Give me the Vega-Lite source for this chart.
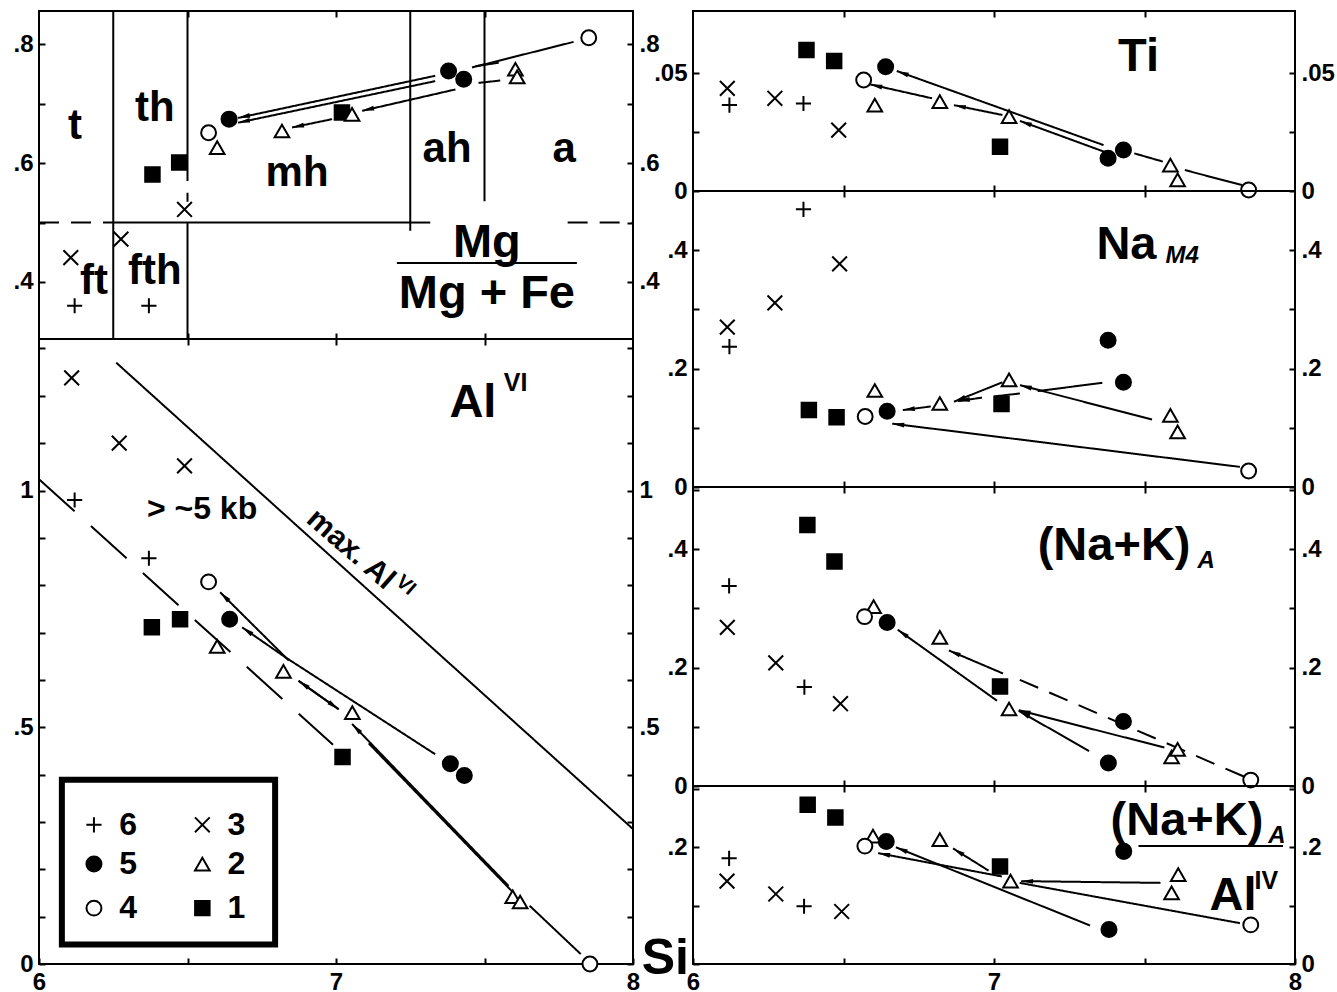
{
"$schema": "https://vega.github.io/schema/vega-lite/v6.json",
"padding": {"left": 11, "top": 9, "right": 0, "bottom": 0},
"background": "white",
"config": {
  "view": {"stroke": "black", "strokeWidth": 2},
  "axis": {"domain": false, "grid": false, "ticks": true, "tickSize": -6, "tickWidth": 2, "tickColor": "black", "labelPadding": 12, "labelFont": "Liberation Sans", "labelFontSize": 24, "labelFontWeight": "bold", "labelColor": "black", "labelFlush": false, "labelOverlap": false, "labelBound": false},
  "text": {"font": "Liberation Sans", "fontWeight": "bold", "color": "black"}
},
"datasets": {
  "pts": [
    {"p":"mg","s":"4","x":7.851,"y":0.811},{"p":"mg","s":"4","x":6.571,"y":0.651},
    {"p":"mg","s":"5","x":7.379,"y":0.755},{"p":"mg","s":"5","x":7.43,"y":0.741},{"p":"mg","s":"5","x":6.64,"y":0.674},
    {"p":"mg","s":"1","x":7.02,"y":0.685},{"p":"mg","s":"1","x":6.382,"y":0.581},{"p":"mg","s":"1","x":6.472,"y":0.601},
    {"p":"mg","s":"2","x":7.604,"y":0.758},{"p":"mg","s":"2","x":7.61,"y":0.745},{"p":"mg","s":"2","x":7.054,"y":0.682},{"p":"mg","s":"2","x":6.818,"y":0.654},{"p":"mg","s":"2","x":6.6,"y":0.626},
    {"p":"mg","s":"3","x":6.49,"y":0.522},{"p":"mg","s":"3","x":6.276,"y":0.472},{"p":"mg","s":"3","x":6.107,"y":0.441},
    {"p":"mg","s":"6","x":6.12,"y":0.36},{"p":"mg","s":"6","x":6.37,"y":0.36},

    {"p":"al","s":"3","x":6.11,"y":1.238},{"p":"al","s":"3","x":6.27,"y":1.1},{"p":"al","s":"3","x":6.49,"y":1.052},
    {"p":"al","s":"6","x":6.12,"y":0.98},{"p":"al","s":"6","x":6.37,"y":0.857},
    {"p":"al","s":"4","x":6.571,"y":0.807},{"p":"al","s":"4","x":7.855,"y":0.0},
    {"p":"al","s":"1","x":6.38,"y":0.711},{"p":"al","s":"1","x":6.475,"y":0.728},{"p":"al","s":"1","x":7.022,"y":0.437},
    {"p":"al","s":"5","x":6.642,"y":0.728},{"p":"al","s":"5","x":7.385,"y":0.423},{"p":"al","s":"5","x":7.432,"y":0.398},
    {"p":"al","s":"2","x":6.6,"y":0.671},{"p":"al","s":"2","x":6.823,"y":0.618},{"p":"al","s":"2","x":7.055,"y":0.531},{"p":"al","s":"2","x":7.595,"y":0.142},{"p":"al","s":"2","x":7.62,"y":0.131},

    {"p":"ti","s":"1","x":6.377,"y":0.0599},{"p":"ti","s":"1","x":6.469,"y":0.0552},{"p":"ti","s":"1","x":7.02,"y":0.0188},
    {"p":"ti","s":"5","x":6.64,"y":0.0528},{"p":"ti","s":"5","x":7.379,"y":0.0139},{"p":"ti","s":"5","x":7.43,"y":0.0174},
    {"p":"ti","s":"4","x":6.567,"y":0.0472},{"p":"ti","s":"4","x":7.846,"y":0.0004},
    {"p":"ti","s":"3","x":6.114,"y":0.0436},{"p":"ti","s":"3","x":6.272,"y":0.0394},{"p":"ti","s":"3","x":6.484,"y":0.0259},
    {"p":"ti","s":"6","x":6.121,"y":0.0365},{"p":"ti","s":"6","x":6.367,"y":0.0372},
    {"p":"ti","s":"2","x":6.604,"y":0.0365},{"p":"ti","s":"2","x":6.82,"y":0.038},{"p":"ti","s":"2","x":7.05,"y":0.0316},{"p":"ti","s":"2","x":7.586,"y":0.011},{"p":"ti","s":"2","x":7.61,"y":0.0047},

    {"p":"na","s":"6","x":6.367,"y":0.469},{"p":"na","s":"6","x":6.121,"y":0.237},
    {"p":"na","s":"3","x":6.487,"y":0.377},{"p":"na","s":"3","x":6.272,"y":0.311},{"p":"na","s":"3","x":6.114,"y":0.27},
    {"p":"na","s":"5","x":7.379,"y":0.248},{"p":"na","s":"5","x":7.43,"y":0.177},{"p":"na","s":"5","x":6.645,"y":0.128},
    {"p":"na","s":"2","x":7.05,"y":0.181},{"p":"na","s":"2","x":6.604,"y":0.163},{"p":"na","s":"2","x":6.82,"y":0.141},{"p":"na","s":"2","x":7.586,"y":0.121},{"p":"na","s":"2","x":7.61,"y":0.093},
    {"p":"na","s":"1","x":6.385,"y":0.13},{"p":"na","s":"1","x":6.477,"y":0.118},{"p":"na","s":"1","x":7.025,"y":0.14},
    {"p":"na","s":"4","x":6.572,"y":0.119},{"p":"na","s":"4","x":7.846,"y":0.027},

    {"p":"nk","s":"1","x":6.38,"y":0.441},{"p":"nk","s":"1","x":6.47,"y":0.379},{"p":"nk","s":"1","x":7.02,"y":0.168},
    {"p":"nk","s":"6","x":6.12,"y":0.338},{"p":"nk","s":"6","x":6.37,"y":0.167},
    {"p":"nk","s":"3","x":6.114,"y":0.268},{"p":"nk","s":"3","x":6.275,"y":0.208},{"p":"nk","s":"3","x":6.49,"y":0.139},
    {"p":"nk","s":"2","x":6.6,"y":0.303},{"p":"nk","s":"2","x":6.82,"y":0.251},{"p":"nk","s":"2","x":7.05,"y":0.13},{"p":"nk","s":"2","x":7.59,"y":0.049},{"p":"nk","s":"2","x":7.61,"y":0.062},
    {"p":"nk","s":"4","x":6.57,"y":0.286},{"p":"nk","s":"4","x":7.853,"y":0.01},
    {"p":"nk","s":"5","x":6.645,"y":0.276},{"p":"nk","s":"5","x":7.43,"y":0.109},{"p":"nk","s":"5","x":7.38,"y":0.039},

    {"p":"ra","s":"1","x":6.381,"y":0.273},{"p":"ra","s":"1","x":6.473,"y":0.251},{"p":"ra","s":"1","x":7.02,"y":0.167},
    {"p":"ra","s":"2","x":6.598,"y":0.219},{"p":"ra","s":"2","x":6.82,"y":0.213},{"p":"ra","s":"2","x":7.055,"y":0.142},{"p":"ra","s":"2","x":7.612,"y":0.153},{"p":"ra","s":"2","x":7.59,"y":0.122},
    {"p":"ra","s":"4","x":6.571,"y":0.202},{"p":"ra","s":"4","x":7.853,"y":0.067},
    {"p":"ra","s":"5","x":6.642,"y":0.21},{"p":"ra","s":"5","x":7.431,"y":0.193},{"p":"ra","s":"5","x":7.382,"y":0.059},
    {"p":"ra","s":"6","x":6.12,"y":0.181},{"p":"ra","s":"6","x":6.369,"y":0.099},
    {"p":"ra","s":"3","x":6.113,"y":0.142},{"p":"ra","s":"3","x":6.275,"y":0.12},{"p":"ra","s":"3","x":6.494,"y":0.09}
  ],
  "leg": [
    {"s":"6","x":6.185,"y":0.294},{"s":"5","x":6.185,"y":0.211},{"s":"4","x":6.185,"y":0.118},
    {"s":"3","x":6.55,"y":0.294},{"s":"2","x":6.55,"y":0.211},{"s":"1","x":6.55,"y":0.118}
  ],
  "segs": [
    {"p":"mg","x":6.25,"y":0.304,"x2":6.25,"y2":0.856,"k":"solid","h":0},
    {"p":"mg","x":6.5,"y":0.856,"x2":6.5,"y2":0.57,"k":"solid","h":0},
    {"p":"mg","x":6.5,"y":0.55,"x2":6.5,"y2":0.535,"k":"solid","h":0},
    {"p":"mg","x":6.5,"y":0.5,"x2":6.5,"y2":0.304,"k":"solid","h":0},
    {"p":"mg","x":7.25,"y":0.856,"x2":7.25,"y2":0.486,"k":"solid","h":0},
    {"p":"mg","x":7.5,"y":0.856,"x2":7.5,"y2":0.536,"k":"solid","h":0},
    {"p":"mg","x":6.25,"y":0.5,"x2":7.25,"y2":0.5,"k":"solid","h":0},
    {"p":"mg","x":6.0,"y":0.5,"x2":6.25,"y2":0.5,"k":"dash","h":0},
    {"p":"mg","x":7.25,"y":0.5,"x2":7.33,"y2":0.5,"k":"dash","h":0},
    {"p":"mg","x":7.78,"y":0.5,"x2":8.0,"y2":0.5,"k":"dash","h":0},
    {"p":"mg","x":7.205,"y":0.432,"x2":7.811,"y2":0.432,"k":"solid","h":0},
    {"p":"mg","x":7.8,"y":0.804,"x2":7.458,"y2":0.761,"k":"solid","h":0},
    {"p":"mg","x":7.334,"y":0.747,"x2":6.67,"y2":0.676,"k":"solid","h":1},
    {"p":"mg","x":7.334,"y":0.738,"x2":6.67,"y2":0.668,"k":"solid","h":1},
    {"p":"mg","x":7.402,"y":0.724,"x2":7.088,"y2":0.688,"k":"solid","h":1},
    {"p":"mg","x":6.987,"y":0.674,"x2":6.852,"y2":0.66,"k":"solid","h":1},
    {"p":"mg","x":7.47,"y":0.763,"x2":7.548,"y2":0.769,"k":"solid","h":0},
    {"p":"mg","x":7.48,"y":0.735,"x2":7.553,"y2":0.739,"k":"solid","h":0},

    {"p":"al","x":6.26,"y":1.27,"x2":8.0,"y2":0.285,"k":"solid","h":0},
    {"p":"al","x":6.0,"y":1.024,"x2":6.99,"y2":0.463,"k":"long","h":0},
    {"p":"al","x":7.824,"y":0.021,"x2":7.652,"y2":0.123,"k":"solid","h":0},
    {"p":"al","x":7.581,"y":0.165,"x2":7.054,"y2":0.507,"k":"solid","h":1},
    {"p":"al","x":7.595,"y":0.152,"x2":7.11,"y2":0.466,"k":"solid","h":0},
    {"p":"al","x":7.009,"y":0.538,"x2":6.874,"y2":0.598,"k":"solid","h":1},
    {"p":"al","x":6.874,"y":0.598,"x2":7.009,"y2":0.538,"k":"solid","h":1},
    {"p":"al","x":6.841,"y":0.641,"x2":6.61,"y2":0.785,"k":"solid","h":1},
    {"p":"al","x":6.829,"y":0.648,"x2":6.684,"y2":0.711,"k":"solid","h":1},
    {"p":"al","x":7.334,"y":0.443,"x2":6.829,"y2":0.648,"k":"solid","h":0},

    {"p":"ti","x":7.364,"y":0.0195,"x2":6.677,"y2":0.051,"k":"solid","h":1},
    {"p":"ti","x":7.37,"y":0.0165,"x2":7.086,"y2":0.0298,"k":"solid","h":1},
    {"p":"ti","x":7.028,"y":0.0323,"x2":6.867,"y2":0.0365,"k":"solid","h":1},
    {"p":"ti","x":6.794,"y":0.0394,"x2":6.589,"y2":0.0453,"k":"solid","h":1},
    {"p":"ti","x":7.466,"y":0.016,"x2":7.561,"y2":0.0125,"k":"solid","h":0},
    {"p":"ti","x":7.634,"y":0.0089,"x2":7.824,"y2":0.0025,"k":"solid","h":0},

    {"p":"na","x":7.817,"y":0.034,"x2":6.662,"y2":0.107,"k":"solid","h":1},
    {"p":"na","x":7.525,"y":0.114,"x2":7.086,"y2":0.172,"k":"solid","h":1},
    {"p":"na","x":7.36,"y":0.176,"x2":7.145,"y2":0.162,"k":"solid","h":0},
    {"p":"na","x":7.086,"y":0.158,"x2":7.0,"y2":0.153,"k":"solid","h":0},
    {"p":"na","x":6.96,"y":0.151,"x2":6.88,"y2":0.145,"k":"solid","h":1},
    {"p":"na","x":7.028,"y":0.177,"x2":6.867,"y2":0.144,"k":"solid","h":1},
    {"p":"na","x":6.79,"y":0.136,"x2":6.697,"y2":0.13,"k":"solid","h":1},

    {"p":"nk","x":7.316,"y":0.059,"x2":7.082,"y2":0.127,"k":"solid","h":1},
    {"p":"nk","x":7.566,"y":0.065,"x2":7.082,"y2":0.128,"k":"solid","h":1},
    {"p":"nk","x":7.83,"y":0.016,"x2":7.06,"y2":0.185,"k":"dash","h":0},
    {"p":"nk","x":7.03,"y":0.19,"x2":6.85,"y2":0.229,"k":"solid","h":1},
    {"p":"nk","x":7.01,"y":0.144,"x2":6.68,"y2":0.264,"k":"solid","h":1},

    {"p":"ra","x":7.817,"y":0.07,"x2":7.085,"y2":0.139,"k":"solid","h":0},
    {"p":"ra","x":7.553,"y":0.139,"x2":7.09,"y2":0.142,"k":"solid","h":1},
    {"p":"ra","x":7.319,"y":0.066,"x2":6.674,"y2":0.2,"k":"solid","h":1},
    {"p":"ra","x":7.026,"y":0.15,"x2":6.615,"y2":0.19,"k":"solid","h":1},
    {"p":"ra","x":6.982,"y":0.16,"x2":6.864,"y2":0.198,"k":"solid","h":1},
    {"p":"ra","x":7.48,"y":0.202,"x2":7.96,"y2":0.202,"k":"solid","h":0}
  ],
  "txt": [
    {"p":"mg","r":"zone","t":"t","x":6.121,"y":0.662},
    {"p":"mg","r":"zone","t":"th","x":6.39,"y":0.693},
    {"p":"mg","r":"zone","t":"mh","x":6.869,"y":0.583},
    {"p":"mg","r":"zone","t":"ah","x":7.374,"y":0.624},
    {"p":"mg","r":"zone","t":"a","x":7.768,"y":0.624},
    {"p":"mg","r":"zone","t":"ft","x":6.185,"y":0.401},
    {"p":"mg","r":"zone","t":"fth","x":6.39,"y":0.418},
    {"p":"mg","r":"big","t":"Mg","x":7.508,"y":0.466},
    {"p":"mg","r":"big","t":"Mg + Fe","x":7.508,"y":0.38},
    {"p":"al","r":"big","t":"Al","x":7.461,"y":1.184},
    {"p":"al","r":"sup","t":"VI","x":7.605,"y":1.228},
    {"p":"al","r":"mid","t":"> ~5 kb","x":6.549,"y":0.96},
    {"p":"al","r":"rot","t":"max. Al","x":7.05,"y":0.876},
    {"p":"al","r":"rotsup","t":"VI","x":7.235,"y":0.8},
    {"p":"al","r":"leg","t":"6","x":6.3,"y":0.294},
    {"p":"al","r":"leg","t":"5","x":6.3,"y":0.211},
    {"p":"al","r":"leg","t":"4","x":6.3,"y":0.118},
    {"p":"al","r":"leg","t":"3","x":6.665,"y":0.294},
    {"p":"al","r":"leg","t":"2","x":6.665,"y":0.211},
    {"p":"al","r":"leg","t":"1","x":6.665,"y":0.118},
    {"p":"ti","r":"big","t":"Ti","x":7.48,"y":0.057},
    {"p":"na","r":"big","t":"Na","x":7.44,"y":0.408},
    {"p":"na","r":"sub","t":"M4","x":7.625,"y":0.378},
    {"p":"nk","r":"big","t":"(Na+K)","x":7.399,"y":0.406},
    {"p":"nk","r":"sub","t":"A","x":7.705,"y":0.368},
    {"p":"ra","r":"big","t":"(Na+K)","x":7.641,"y":0.245},
    {"p":"ra","r":"sub","t":"A","x":7.94,"y":0.207},
    {"p":"ra","r":"big","t":"Al","x":7.794,"y":0.117},
    {"p":"ra","r":"sup","t":"IV","x":7.905,"y":0.143},
    {"p":"ra","r":"si","t":"Si","x":5.908,"y":0.008}
  ]
},
"spacing": -21,
"hconcat": [
 {"spacing": 0, "bounds": "flush", "vconcat": [
  {"width": 594, "height": 328,
   "resolve": {"axis": {"x": "independent", "y": "independent"}},
   "layer": [
    {"data": {"name": "segs"}, "transform": [{"filter": "datum.p=='mg'"}],
     "mark": {"type": "rule", "color": "black", "strokeWidth": 2},
     "encoding": {
      "x": {"field": "x", "type": "quantitative", "scale": {"domain": [6, 8], "nice": false, "zero": false}, "axis": {"orient": "bottom", "values": [6.5, 7, 7.5], "labels": false, "title": null}},
      "y": {"field": "y", "type": "quantitative", "scale": {"domain": [0.304, 0.856], "nice": false, "zero": false}, "axis": {"orient": "left", "values": [0.4, 0.5, 0.6, 0.7, 0.8], "labelExpr": "datum.value==0.4?'.4':datum.value==0.6?'.6':datum.value==0.8?'.8':''", "title": null}},
      "x2": {"field": "x2"}, "y2": {"field": "y2"},
      "strokeDash": {"field": "k", "type": "nominal", "scale": {"domain": ["solid", "dash", "long"], "range": [[1, 0], [20, 12], [48, 22]]}, "legend": null}}},
    {"data": {"name": "pts"}, "transform": [{"filter": "datum.p=='mg'"}],
     "mark": {"type": "point", "filled": true, "stroke": "black", "strokeWidth": 2, "opacity": 1},
     "encoding": {
      "x": {"field": "x", "type": "quantitative", "scale": {"domain": [6, 8], "nice": false, "zero": false}, "axis": {"orient": "top", "values": [6.5, 7, 7.5], "labels": false, "title": null}},
      "y": {"field": "y", "type": "quantitative", "scale": {"domain": [0.304, 0.856], "nice": false, "zero": false}, "axis": {"orient": "right", "values": [0.4, 0.5, 0.6, 0.7, 0.8], "labelExpr": "datum.value==0.4?'.4':datum.value==0.6?'.6':datum.value==0.8?'.8':''", "title": null}},
      "shape": {"field": "s", "type": "nominal", "scale": {"domain": ["1","2","3","4","5","6"], "range": ["square", "triangle-up", "M-1,-1L1,1M-1,1L1,-1", "circle", "circle", "M-1,0L1,0M0,-1L0,1"]}, "legend": null},
      "fill": {"field": "s", "type": "nominal", "scale": {"domain": ["1","2","3","4","5","6"], "range": ["black", "white", "transparent", "white", "black", "transparent"]}, "legend": null},
      "size": {"field": "s", "type": "ordinal", "scale": {"domain": ["1","2","3","4","5","6"], "range": [210, 230, 110, 200, 250, 180]}, "legend": null}}},
    {"data": {"name": "segs"}, "transform": [{"filter": "datum.p=='mg' && datum.h==1"}, {"calculate": "atan2((datum.x2-datum.x)*297,(datum.y2-datum.y)*594.2)*180/PI", "as": "ang"}],
     "mark": {"type": "point", "filled": true, "color": "black", "shape": "M0,0L0.4,2L-0.4,2Z", "size": 144, "opacity": 1},
     "encoding": {
      "x": {"field": "x2", "type": "quantitative", "scale": {"domain": [6, 8], "nice": false, "zero": false}, "axis": null},
      "y": {"field": "y2", "type": "quantitative", "scale": {"domain": [0.304, 0.856], "nice": false, "zero": false}, "axis": null},
      "angle": {"field": "ang", "type": "quantitative", "scale": null}}},
    {"data": {"name": "txt"}, "transform": [{"filter": "datum.p=='mg' && datum.r=='zone'"}],
     "mark": {"type": "text", "fontSize": 42, "align": "center", "baseline": "middle"},
     "encoding": {
      "x": {"field": "x", "type": "quantitative", "scale": {"domain": [6, 8], "nice": false, "zero": false}, "axis": null},
      "y": {"field": "y", "type": "quantitative", "scale": {"domain": [0.304, 0.856], "nice": false, "zero": false}, "axis": null},
      "text": {"field": "t"}}},
    {"data": {"name": "txt"}, "transform": [{"filter": "datum.p=='mg' && datum.r=='big'"}],
     "mark": {"type": "text", "fontSize": 47, "align": "center", "baseline": "middle"},
     "encoding": {
      "x": {"field": "x", "type": "quantitative", "scale": {"domain": [6, 8], "nice": false, "zero": false}, "axis": null},
      "y": {"field": "y", "type": "quantitative", "scale": {"domain": [0.304, 0.856], "nice": false, "zero": false}, "axis": null},
      "text": {"field": "t"}}}
   ]},
  {"width": 594, "height": 625,
   "resolve": {"axis": {"x": "independent", "y": "independent"}},
   "layer": [
    {"data": {"name": "segs"}, "transform": [{"filter": "datum.p=='al'"}],
     "mark": {"type": "rule", "color": "black", "strokeWidth": 2},
     "encoding": {
      "x": {"field": "x", "type": "quantitative", "scale": {"domain": [6, 8], "nice": false, "zero": false}, "axis": {"orient": "bottom", "values": [6, 6.5, 7, 7.5, 8], "labelExpr": "datum.value==6?'6':datum.value==7?'7':datum.value==8?'8':''", "title": null}},
      "y": {"field": "y", "type": "quantitative", "scale": {"domain": [0, 1.32], "nice": false, "zero": false}, "axis": {"orient": "left", "values": [0, 0.1, 0.2, 0.3, 0.4, 0.5, 0.6, 0.7, 0.8, 0.9, 1, 1.1, 1.2, 1.3], "labelExpr": "datum.value==0?'0':datum.value==0.5?'.5':datum.value==1?'1':''", "title": null}},
      "x2": {"field": "x2"}, "y2": {"field": "y2"},
      "strokeDash": {"field": "k", "type": "nominal", "scale": {"domain": ["solid", "dash", "long"], "range": [[1, 0], [20, 12], [48, 22]]}, "legend": null}}},
    {"data": {"values": [{}]},
     "mark": {"type": "rect", "fill": "white", "stroke": "black", "strokeWidth": 6},
     "encoding": {
      "x": {"datum": 6.077, "type": "quantitative", "scale": {"domain": [6, 8], "nice": false, "zero": false}, "axis": null},
      "x2": {"datum": 6.795},
      "y": {"datum": 0.389, "type": "quantitative", "scale": {"domain": [0, 1.32], "nice": false, "zero": false}, "axis": null},
      "y2": {"datum": 0.041}}},
    {"data": {"name": "pts"}, "transform": [{"filter": "datum.p=='al'"}],
     "mark": {"type": "point", "filled": true, "stroke": "black", "strokeWidth": 2, "opacity": 1},
     "encoding": {
      "x": {"field": "x", "type": "quantitative", "scale": {"domain": [6, 8], "nice": false, "zero": false}, "axis": {"orient": "top", "values": [6.5, 7, 7.5], "labels": false, "title": null}},
      "y": {"field": "y", "type": "quantitative", "scale": {"domain": [0, 1.32], "nice": false, "zero": false}, "axis": {"orient": "right", "values": [0, 0.1, 0.2, 0.3, 0.4, 0.5, 0.6, 0.7, 0.8, 0.9, 1, 1.1, 1.2, 1.3], "labelExpr": "datum.value==0.5?'.5':datum.value==1?'1':''", "title": null}},
      "shape": {"field": "s", "type": "nominal", "scale": {"domain": ["1","2","3","4","5","6"], "range": ["square", "triangle-up", "M-1,-1L1,1M-1,1L1,-1", "circle", "circle", "M-1,0L1,0M0,-1L0,1"]}, "legend": null},
      "fill": {"field": "s", "type": "nominal", "scale": {"domain": ["1","2","3","4","5","6"], "range": ["black", "white", "transparent", "white", "black", "transparent"]}, "legend": null},
      "size": {"field": "s", "type": "ordinal", "scale": {"domain": ["1","2","3","4","5","6"], "range": [210, 230, 110, 200, 250, 180]}, "legend": null}}},
    {"data": {"name": "leg"},
     "mark": {"type": "point", "filled": true, "stroke": "black", "strokeWidth": 2, "opacity": 1},
     "encoding": {
      "x": {"field": "x", "type": "quantitative", "scale": {"domain": [6, 8], "nice": false, "zero": false}, "axis": null},
      "y": {"field": "y", "type": "quantitative", "scale": {"domain": [0, 1.32], "nice": false, "zero": false}, "axis": null},
      "shape": {"field": "s", "type": "nominal", "scale": {"domain": ["1","2","3","4","5","6"], "range": ["square", "triangle-up", "M-1,-1L1,1M-1,1L1,-1", "circle", "circle", "M-1,0L1,0M0,-1L0,1"]}, "legend": null},
      "fill": {"field": "s", "type": "nominal", "scale": {"domain": ["1","2","3","4","5","6"], "range": ["black", "white", "transparent", "white", "black", "transparent"]}, "legend": null},
      "size": {"field": "s", "type": "ordinal", "scale": {"domain": ["1","2","3","4","5","6"], "range": [210, 230, 110, 200, 250, 180]}, "legend": null}}},
    {"data": {"name": "segs"}, "transform": [{"filter": "datum.p=='al' && datum.h==1"}, {"calculate": "atan2((datum.x2-datum.x)*297,(datum.y2-datum.y)*473.5)*180/PI", "as": "ang"}],
     "mark": {"type": "point", "filled": true, "color": "black", "shape": "M0,0L0.4,2L-0.4,2Z", "size": 144, "opacity": 1},
     "encoding": {
      "x": {"field": "x2", "type": "quantitative", "scale": {"domain": [6, 8], "nice": false, "zero": false}, "axis": null},
      "y": {"field": "y2", "type": "quantitative", "scale": {"domain": [0, 1.32], "nice": false, "zero": false}, "axis": null},
      "angle": {"field": "ang", "type": "quantitative", "scale": null}}},
    {"data": {"name": "txt"}, "transform": [{"filter": "datum.p=='al' && datum.r=='big'"}],
     "mark": {"type": "text", "fontSize": 47, "align": "center", "baseline": "middle"},
     "encoding": {
      "x": {"field": "x", "type": "quantitative", "scale": {"domain": [6, 8], "nice": false, "zero": false}, "axis": null},
      "y": {"field": "y", "type": "quantitative", "scale": {"domain": [0, 1.32], "nice": false, "zero": false}, "axis": null},
      "text": {"field": "t"}}},
    {"data": {"name": "txt"}, "transform": [{"filter": "datum.p=='al' && datum.r=='sup'"}],
     "mark": {"type": "text", "fontSize": 25, "align": "center", "baseline": "middle"},
     "encoding": {
      "x": {"field": "x", "type": "quantitative", "scale": {"domain": [6, 8], "nice": false, "zero": false}, "axis": null},
      "y": {"field": "y", "type": "quantitative", "scale": {"domain": [0, 1.32], "nice": false, "zero": false}, "axis": null},
      "text": {"field": "t"}}},
    {"data": {"name": "txt"}, "transform": [{"filter": "datum.p=='al' && datum.r=='mid'"}],
     "mark": {"type": "text", "fontSize": 32, "align": "center", "baseline": "middle"},
     "encoding": {
      "x": {"field": "x", "type": "quantitative", "scale": {"domain": [6, 8], "nice": false, "zero": false}, "axis": null},
      "y": {"field": "y", "type": "quantitative", "scale": {"domain": [0, 1.32], "nice": false, "zero": false}, "axis": null},
      "text": {"field": "t"}}},
    {"data": {"name": "txt"}, "transform": [{"filter": "datum.p=='al' && datum.r=='rot'"}],
     "mark": {"type": "text", "fontSize": 30, "align": "center", "baseline": "middle", "angle": 41},
     "encoding": {
      "x": {"field": "x", "type": "quantitative", "scale": {"domain": [6, 8], "nice": false, "zero": false}, "axis": null},
      "y": {"field": "y", "type": "quantitative", "scale": {"domain": [0, 1.32], "nice": false, "zero": false}, "axis": null},
      "text": {"field": "t"}}},
    {"data": {"name": "txt"}, "transform": [{"filter": "datum.p=='al' && datum.r=='rotsup'"}],
     "mark": {"type": "text", "fontSize": 20, "align": "center", "baseline": "middle", "angle": 41},
     "encoding": {
      "x": {"field": "x", "type": "quantitative", "scale": {"domain": [6, 8], "nice": false, "zero": false}, "axis": null},
      "y": {"field": "y", "type": "quantitative", "scale": {"domain": [0, 1.32], "nice": false, "zero": false}, "axis": null},
      "text": {"field": "t"}}},
    {"data": {"name": "txt"}, "transform": [{"filter": "datum.p=='al' && datum.r=='leg'"}],
     "mark": {"type": "text", "fontSize": 32, "align": "center", "baseline": "middle"},
     "encoding": {
      "x": {"field": "x", "type": "quantitative", "scale": {"domain": [6, 8], "nice": false, "zero": false}, "axis": null},
      "y": {"field": "y", "type": "quantitative", "scale": {"domain": [0, 1.32], "nice": false, "zero": false}, "axis": null},
      "text": {"field": "t"}}}
   ]}
 ]},
 {"spacing": 0, "bounds": "flush", "vconcat": [
  {"width": 602, "height": 180,
   "resolve": {"axis": {"x": "independent", "y": "independent"}},
   "layer": [
    {"data": {"name": "segs"}, "transform": [{"filter": "datum.p=='ti'"}],
     "mark": {"type": "rule", "color": "black", "strokeWidth": 2},
     "encoding": {
      "x": {"field": "x", "type": "quantitative", "scale": {"domain": [6, 8], "nice": false, "zero": false}, "axis": {"orient": "bottom", "values": [6.5, 7, 7.5], "labels": false, "title": null}},
      "y": {"field": "y", "type": "quantitative", "scale": {"domain": [0, 0.0765], "nice": false, "zero": false}, "axis": {"orient": "left", "values": [0, 0.025, 0.05], "labelExpr": "datum.value==0?'0':datum.value==0.05?'.05':''", "title": null}},
      "x2": {"field": "x2"}, "y2": {"field": "y2"},
      "strokeDash": {"field": "k", "type": "nominal", "scale": {"domain": ["solid", "dash", "long"], "range": [[1, 0], [20, 12], [48, 22]]}, "legend": null}}},
    {"data": {"name": "pts"}, "transform": [{"filter": "datum.p=='ti'"}],
     "mark": {"type": "point", "filled": true, "stroke": "black", "strokeWidth": 2, "opacity": 1},
     "encoding": {
      "x": {"field": "x", "type": "quantitative", "scale": {"domain": [6, 8], "nice": false, "zero": false}, "axis": {"orient": "top", "values": [6.5, 7, 7.5], "labels": false, "title": null}},
      "y": {"field": "y", "type": "quantitative", "scale": {"domain": [0, 0.0765], "nice": false, "zero": false}, "axis": {"orient": "right", "values": [0, 0.025, 0.05], "labelExpr": "datum.value==0?'0':datum.value==0.05?'.05':''", "title": null}},
      "shape": {"field": "s", "type": "nominal", "scale": {"domain": ["1","2","3","4","5","6"], "range": ["square", "triangle-up", "M-1,-1L1,1M-1,1L1,-1", "circle", "circle", "M-1,0L1,0M0,-1L0,1"]}, "legend": null},
      "fill": {"field": "s", "type": "nominal", "scale": {"domain": ["1","2","3","4","5","6"], "range": ["black", "white", "transparent", "white", "black", "transparent"]}, "legend": null},
      "size": {"field": "s", "type": "ordinal", "scale": {"domain": ["1","2","3","4","5","6"], "range": [210, 230, 110, 200, 250, 180]}, "legend": null}}},
    {"data": {"name": "segs"}, "transform": [{"filter": "datum.p=='ti' && datum.h==1"}, {"calculate": "atan2((datum.x2-datum.x)*301,(datum.y2-datum.y)*2352.9)*180/PI", "as": "ang"}],
     "mark": {"type": "point", "filled": true, "color": "black", "shape": "M0,0L0.4,2L-0.4,2Z", "size": 144, "opacity": 1},
     "encoding": {
      "x": {"field": "x2", "type": "quantitative", "scale": {"domain": [6, 8], "nice": false, "zero": false}, "axis": null},
      "y": {"field": "y2", "type": "quantitative", "scale": {"domain": [0, 0.0765], "nice": false, "zero": false}, "axis": null},
      "angle": {"field": "ang", "type": "quantitative", "scale": null}}},
    {"data": {"name": "txt"}, "transform": [{"filter": "datum.p=='ti' && datum.r=='big'"}],
     "mark": {"type": "text", "fontSize": 47, "align": "center", "baseline": "middle"},
     "encoding": {
      "x": {"field": "x", "type": "quantitative", "scale": {"domain": [6, 8], "nice": false, "zero": false}, "axis": null},
      "y": {"field": "y", "type": "quantitative", "scale": {"domain": [0, 0.0765], "nice": false, "zero": false}, "axis": null},
      "text": {"field": "t"}}}
   ]},
  {"width": 602, "height": 296,
   "resolve": {"axis": {"x": "independent", "y": "independent"}},
   "layer": [
    {"data": {"name": "segs"}, "transform": [{"filter": "datum.p=='na'"}],
     "mark": {"type": "rule", "color": "black", "strokeWidth": 2},
     "encoding": {
      "x": {"field": "x", "type": "quantitative", "scale": {"domain": [6, 8], "nice": false, "zero": false}, "axis": {"orient": "bottom", "values": [6.5, 7, 7.5], "labels": false, "title": null}},
      "y": {"field": "y", "type": "quantitative", "scale": {"domain": [0, 0.5], "nice": false, "zero": false}, "axis": {"orient": "left", "values": [0, 0.1, 0.2, 0.3, 0.4], "labelExpr": "datum.value==0?'0':datum.value==0.2?'.2':datum.value==0.4?'.4':''", "title": null}},
      "x2": {"field": "x2"}, "y2": {"field": "y2"},
      "strokeDash": {"field": "k", "type": "nominal", "scale": {"domain": ["solid", "dash", "long"], "range": [[1, 0], [20, 12], [48, 22]]}, "legend": null}}},
    {"data": {"name": "pts"}, "transform": [{"filter": "datum.p=='na'"}],
     "mark": {"type": "point", "filled": true, "stroke": "black", "strokeWidth": 2, "opacity": 1},
     "encoding": {
      "x": {"field": "x", "type": "quantitative", "scale": {"domain": [6, 8], "nice": false, "zero": false}, "axis": {"orient": "top", "values": [6.5, 7, 7.5], "labels": false, "title": null}},
      "y": {"field": "y", "type": "quantitative", "scale": {"domain": [0, 0.5], "nice": false, "zero": false}, "axis": {"orient": "right", "values": [0, 0.1, 0.2, 0.3, 0.4], "labelExpr": "datum.value==0?'0':datum.value==0.2?'.2':datum.value==0.4?'.4':''", "title": null}},
      "shape": {"field": "s", "type": "nominal", "scale": {"domain": ["1","2","3","4","5","6"], "range": ["square", "triangle-up", "M-1,-1L1,1M-1,1L1,-1", "circle", "circle", "M-1,0L1,0M0,-1L0,1"]}, "legend": null},
      "fill": {"field": "s", "type": "nominal", "scale": {"domain": ["1","2","3","4","5","6"], "range": ["black", "white", "transparent", "white", "black", "transparent"]}, "legend": null},
      "size": {"field": "s", "type": "ordinal", "scale": {"domain": ["1","2","3","4","5","6"], "range": [210, 230, 110, 200, 250, 180]}, "legend": null}}},
    {"data": {"name": "segs"}, "transform": [{"filter": "datum.p=='na' && datum.h==1"}, {"calculate": "atan2((datum.x2-datum.x)*301,(datum.y2-datum.y)*592)*180/PI", "as": "ang"}],
     "mark": {"type": "point", "filled": true, "color": "black", "shape": "M0,0L0.4,2L-0.4,2Z", "size": 144, "opacity": 1},
     "encoding": {
      "x": {"field": "x2", "type": "quantitative", "scale": {"domain": [6, 8], "nice": false, "zero": false}, "axis": null},
      "y": {"field": "y2", "type": "quantitative", "scale": {"domain": [0, 0.5], "nice": false, "zero": false}, "axis": null},
      "angle": {"field": "ang", "type": "quantitative", "scale": null}}},
    {"data": {"name": "txt"}, "transform": [{"filter": "datum.p=='na' && datum.r=='big'"}],
     "mark": {"type": "text", "fontSize": 47, "align": "center", "baseline": "middle"},
     "encoding": {
      "x": {"field": "x", "type": "quantitative", "scale": {"domain": [6, 8], "nice": false, "zero": false}, "axis": null},
      "y": {"field": "y", "type": "quantitative", "scale": {"domain": [0, 0.5], "nice": false, "zero": false}, "axis": null},
      "text": {"field": "t"}}},
    {"data": {"name": "txt"}, "transform": [{"filter": "datum.p=='na' && datum.r=='sub'"}],
     "mark": {"type": "text", "fontSize": 24, "fontStyle": "italic", "align": "center", "baseline": "alphabetic"},
     "encoding": {
      "x": {"field": "x", "type": "quantitative", "scale": {"domain": [6, 8], "nice": false, "zero": false}, "axis": null},
      "y": {"field": "y", "type": "quantitative", "scale": {"domain": [0, 0.5], "nice": false, "zero": false}, "axis": null},
      "text": {"field": "t"}}}
   ]},
  {"width": 602, "height": 299,
   "resolve": {"axis": {"x": "independent", "y": "independent"}},
   "layer": [
    {"data": {"name": "segs"}, "transform": [{"filter": "datum.p=='nk'"}],
     "mark": {"type": "rule", "color": "black", "strokeWidth": 2},
     "encoding": {
      "x": {"field": "x", "type": "quantitative", "scale": {"domain": [6, 8], "nice": false, "zero": false}, "axis": {"orient": "bottom", "values": [6.5, 7, 7.5], "labels": false, "title": null}},
      "y": {"field": "y", "type": "quantitative", "scale": {"domain": [0, 0.505], "nice": false, "zero": false}, "axis": {"orient": "left", "values": [0, 0.1, 0.2, 0.3, 0.4, 0.5], "labelExpr": "datum.value==0?'0':datum.value==0.2?'.2':datum.value==0.4?'.4':''", "title": null}},
      "x2": {"field": "x2"}, "y2": {"field": "y2"},
      "strokeDash": {"field": "k", "type": "nominal", "scale": {"domain": ["solid", "dash", "long"], "range": [[1, 0], [20, 12], [48, 22]]}, "legend": null}}},
    {"data": {"name": "pts"}, "transform": [{"filter": "datum.p=='nk'"}],
     "mark": {"type": "point", "filled": true, "stroke": "black", "strokeWidth": 2, "opacity": 1},
     "encoding": {
      "x": {"field": "x", "type": "quantitative", "scale": {"domain": [6, 8], "nice": false, "zero": false}, "axis": {"orient": "top", "values": [6.5, 7, 7.5], "labels": false, "title": null}},
      "y": {"field": "y", "type": "quantitative", "scale": {"domain": [0, 0.505], "nice": false, "zero": false}, "axis": {"orient": "right", "values": [0, 0.1, 0.2, 0.3, 0.4, 0.5], "labelExpr": "datum.value==0?'0':datum.value==0.2?'.2':datum.value==0.4?'.4':''", "title": null}},
      "shape": {"field": "s", "type": "nominal", "scale": {"domain": ["1","2","3","4","5","6"], "range": ["square", "triangle-up", "M-1,-1L1,1M-1,1L1,-1", "circle", "circle", "M-1,0L1,0M0,-1L0,1"]}, "legend": null},
      "fill": {"field": "s", "type": "nominal", "scale": {"domain": ["1","2","3","4","5","6"], "range": ["black", "white", "transparent", "white", "black", "transparent"]}, "legend": null},
      "size": {"field": "s", "type": "ordinal", "scale": {"domain": ["1","2","3","4","5","6"], "range": [210, 230, 110, 200, 250, 180]}, "legend": null}}},
    {"data": {"name": "segs"}, "transform": [{"filter": "datum.p=='nk' && datum.h==1"}, {"calculate": "atan2((datum.x2-datum.x)*301,(datum.y2-datum.y)*592.1)*180/PI", "as": "ang"}],
     "mark": {"type": "point", "filled": true, "color": "black", "shape": "M0,0L0.4,2L-0.4,2Z", "size": 144, "opacity": 1},
     "encoding": {
      "x": {"field": "x2", "type": "quantitative", "scale": {"domain": [6, 8], "nice": false, "zero": false}, "axis": null},
      "y": {"field": "y2", "type": "quantitative", "scale": {"domain": [0, 0.505], "nice": false, "zero": false}, "axis": null},
      "angle": {"field": "ang", "type": "quantitative", "scale": null}}},
    {"data": {"name": "txt"}, "transform": [{"filter": "datum.p=='nk' && datum.r=='big'"}],
     "mark": {"type": "text", "fontSize": 47, "align": "center", "baseline": "middle"},
     "encoding": {
      "x": {"field": "x", "type": "quantitative", "scale": {"domain": [6, 8], "nice": false, "zero": false}, "axis": null},
      "y": {"field": "y", "type": "quantitative", "scale": {"domain": [0, 0.505], "nice": false, "zero": false}, "axis": null},
      "text": {"field": "t"}}},
    {"data": {"name": "txt"}, "transform": [{"filter": "datum.p=='nk' && datum.r=='sub'"}],
     "mark": {"type": "text", "fontSize": 24, "fontStyle": "italic", "align": "center", "baseline": "alphabetic"},
     "encoding": {
      "x": {"field": "x", "type": "quantitative", "scale": {"domain": [6, 8], "nice": false, "zero": false}, "axis": null},
      "y": {"field": "y", "type": "quantitative", "scale": {"domain": [0, 0.505], "nice": false, "zero": false}, "axis": null},
      "text": {"field": "t"}}}
   ]},
  {"width": 602, "height": 178,
   "resolve": {"axis": {"x": "independent", "y": "independent"}},
   "layer": [
    {"data": {"name": "segs"}, "transform": [{"filter": "datum.p=='ra'"}],
     "mark": {"type": "rule", "color": "black", "strokeWidth": 2},
     "encoding": {
      "x": {"field": "x", "type": "quantitative", "scale": {"domain": [6, 8], "nice": false, "zero": false}, "axis": {"orient": "bottom", "values": [6, 6.5, 7, 7.5, 8], "labelExpr": "datum.value==6?'6':datum.value==7?'7':datum.value==8?'8':''", "title": null}},
      "y": {"field": "y", "type": "quantitative", "scale": {"domain": [0, 0.305], "nice": false, "zero": false}, "axis": {"orient": "left", "values": [0, 0.1, 0.2, 0.3], "labelExpr": "datum.value==0.2?'.2':''", "title": null}},
      "x2": {"field": "x2"}, "y2": {"field": "y2"},
      "strokeDash": {"field": "k", "type": "nominal", "scale": {"domain": ["solid", "dash", "long"], "range": [[1, 0], [20, 12], [48, 22]]}, "legend": null}}},
    {"data": {"name": "pts"}, "transform": [{"filter": "datum.p=='ra'"}],
     "mark": {"type": "point", "filled": true, "stroke": "black", "strokeWidth": 2, "opacity": 1},
     "encoding": {
      "x": {"field": "x", "type": "quantitative", "scale": {"domain": [6, 8], "nice": false, "zero": false}, "axis": {"orient": "top", "values": [6.5, 7, 7.5], "labels": false, "title": null}},
      "y": {"field": "y", "type": "quantitative", "scale": {"domain": [0, 0.305], "nice": false, "zero": false}, "axis": {"orient": "right", "values": [0, 0.1, 0.2, 0.3], "labelExpr": "datum.value==0?'0':datum.value==0.2?'.2':''", "title": null}},
      "shape": {"field": "s", "type": "nominal", "scale": {"domain": ["1","2","3","4","5","6"], "range": ["square", "triangle-up", "M-1,-1L1,1M-1,1L1,-1", "circle", "circle", "M-1,0L1,0M0,-1L0,1"]}, "legend": null},
      "fill": {"field": "s", "type": "nominal", "scale": {"domain": ["1","2","3","4","5","6"], "range": ["black", "white", "transparent", "white", "black", "transparent"]}, "legend": null},
      "size": {"field": "s", "type": "ordinal", "scale": {"domain": ["1","2","3","4","5","6"], "range": [210, 230, 110, 200, 250, 180]}, "legend": null}}},
    {"data": {"name": "segs"}, "transform": [{"filter": "datum.p=='ra' && datum.h==1"}, {"calculate": "atan2((datum.x2-datum.x)*301,(datum.y2-datum.y)*583.6)*180/PI", "as": "ang"}],
     "mark": {"type": "point", "filled": true, "color": "black", "shape": "M0,0L0.4,2L-0.4,2Z", "size": 144, "opacity": 1},
     "encoding": {
      "x": {"field": "x2", "type": "quantitative", "scale": {"domain": [6, 8], "nice": false, "zero": false}, "axis": null},
      "y": {"field": "y2", "type": "quantitative", "scale": {"domain": [0, 0.305], "nice": false, "zero": false}, "axis": null},
      "angle": {"field": "ang", "type": "quantitative", "scale": null}}},
    {"data": {"name": "txt"}, "transform": [{"filter": "datum.p=='ra' && datum.r=='big'"}],
     "mark": {"type": "text", "fontSize": 47, "align": "center", "baseline": "middle"},
     "encoding": {
      "x": {"field": "x", "type": "quantitative", "scale": {"domain": [6, 8], "nice": false, "zero": false}, "axis": null},
      "y": {"field": "y", "type": "quantitative", "scale": {"domain": [0, 0.305], "nice": false, "zero": false}, "axis": null},
      "text": {"field": "t"}}},
    {"data": {"name": "txt"}, "transform": [{"filter": "datum.p=='ra' && datum.r=='si'"}],
     "mark": {"type": "text", "fontSize": 50, "align": "center", "baseline": "middle"},
     "encoding": {
      "x": {"field": "x", "type": "quantitative", "scale": {"domain": [6, 8], "nice": false, "zero": false}, "axis": null},
      "y": {"field": "y", "type": "quantitative", "scale": {"domain": [0, 0.305], "nice": false, "zero": false}, "axis": null},
      "text": {"field": "t"}}},
    {"data": {"name": "txt"}, "transform": [{"filter": "datum.p=='ra' && datum.r=='sub'"}],
     "mark": {"type": "text", "fontSize": 24, "fontStyle": "italic", "align": "center", "baseline": "alphabetic"},
     "encoding": {
      "x": {"field": "x", "type": "quantitative", "scale": {"domain": [6, 8], "nice": false, "zero": false}, "axis": null},
      "y": {"field": "y", "type": "quantitative", "scale": {"domain": [0, 0.305], "nice": false, "zero": false}, "axis": null},
      "text": {"field": "t"}}},
    {"data": {"name": "txt"}, "transform": [{"filter": "datum.p=='ra' && datum.r=='sup'"}],
     "mark": {"type": "text", "fontSize": 25, "align": "center", "baseline": "middle"},
     "encoding": {
      "x": {"field": "x", "type": "quantitative", "scale": {"domain": [6, 8], "nice": false, "zero": false}, "axis": null},
      "y": {"field": "y", "type": "quantitative", "scale": {"domain": [0, 0.305], "nice": false, "zero": false}, "axis": null},
      "text": {"field": "t"}}}
   ]}
 ]}
]
}
